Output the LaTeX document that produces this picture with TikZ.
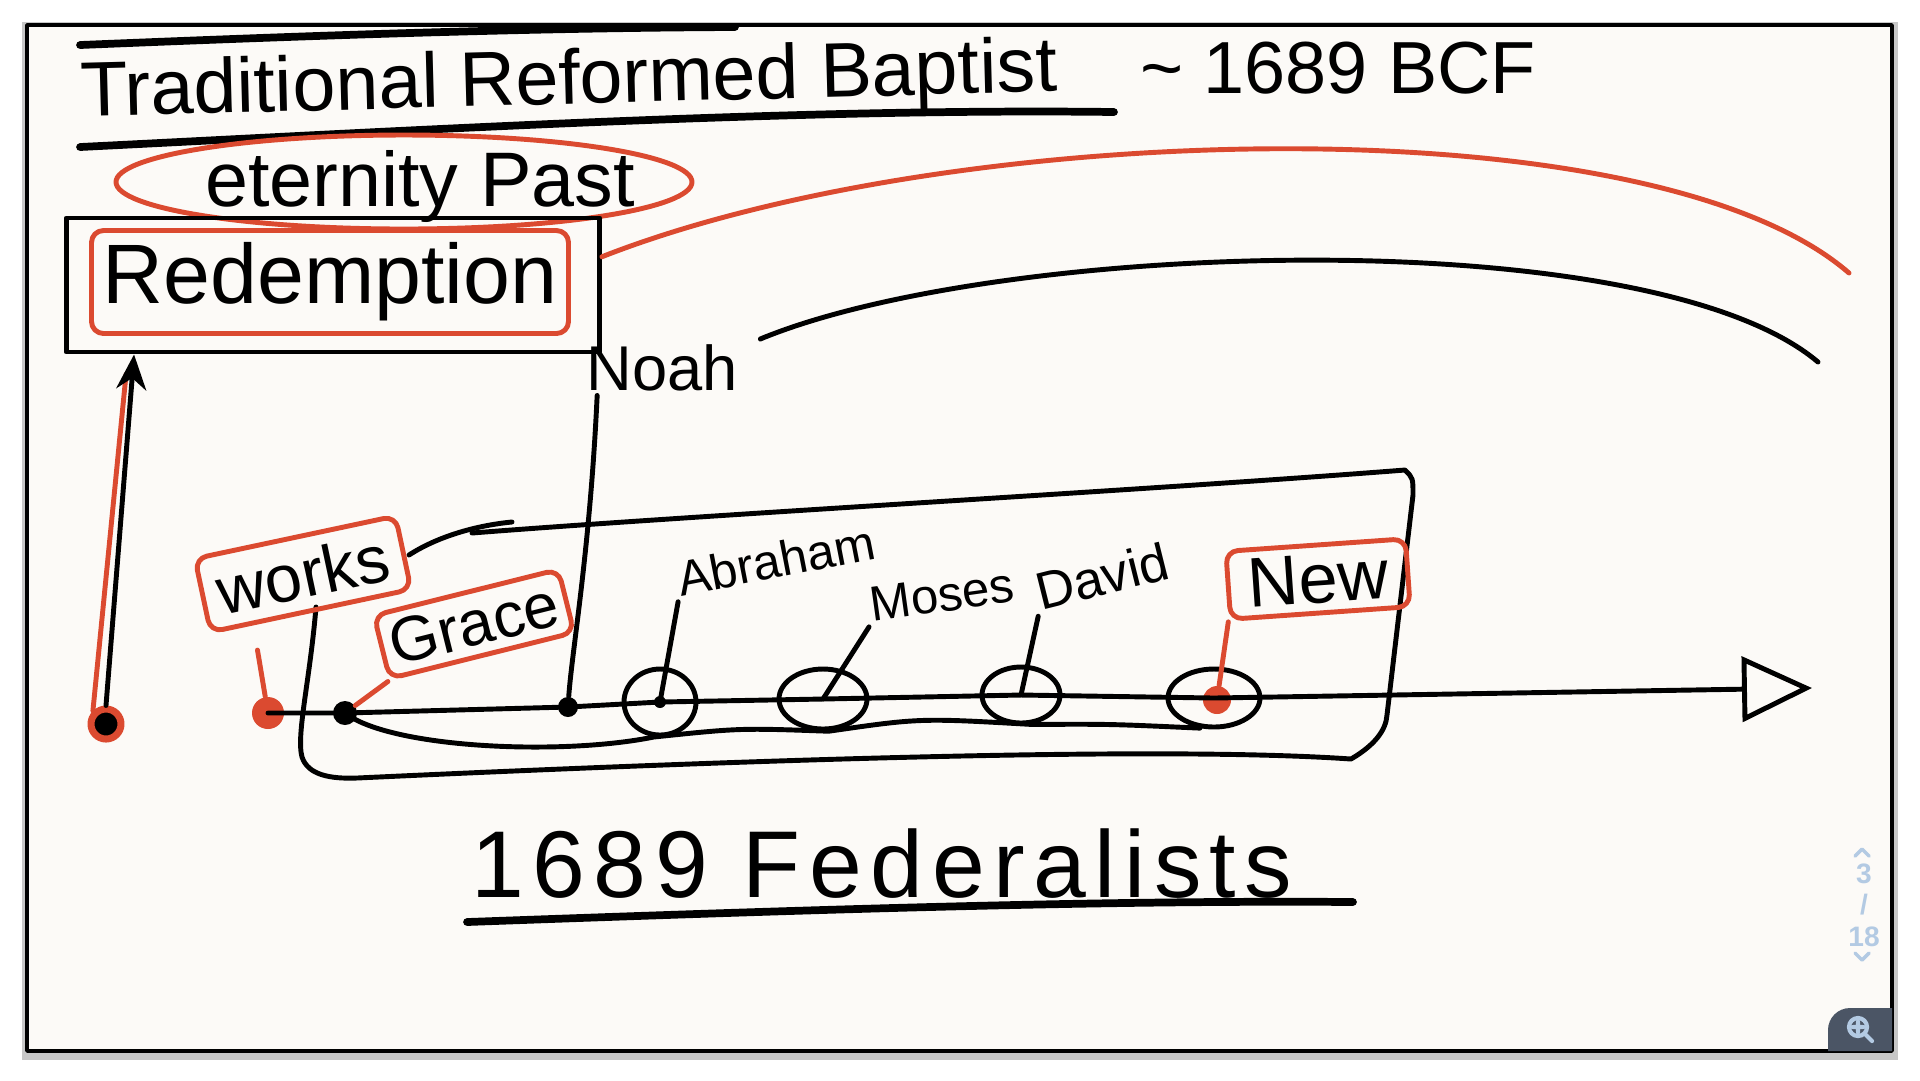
\documentclass[tikz,border=0pt]{standalone}
\usepackage{fontspec}
\setmainfont{Liberation Sans}
\usetikzlibrary{shapes.geometric,arrows.meta}
\definecolor{pen}{HTML}{DB4A30}
\definecolor{board}{HTML}{FCFAF7}
\definecolor{pager}{HTML}{B3CAE3}
\definecolor{btn}{HTML}{4B5565}

\begin{document}
\begin{tikzpicture}[x=0.1mm,y=-0.1mm,line cap=round,line join=round,
  ink/.style={draw=black,line width=1.4pt},
  red ink/.style={draw=pen,line width=1.4pt},
  hand/.style={inner sep=1pt,font=\fontsize{#1}{#1}\selectfont},
  red box/.style={draw=pen,line width=1.4pt,rounded corners=1.2mm,inner sep=1pt},
  covenant/.style={ellipse,draw,line width=1.4pt,inner sep=0pt},
  dot/.style={circle,fill=#1,inner sep=0pt,minimum size=2.4mm},dot/.default=black]

  \useasboundingbox (0,0) rectangle (1920,1080);
  \fill[white] (0,0) rectangle (1920,1080);
  \fill[black!22] (22,22) rectangle (1898,1060);
  \fill[board,draw=black,line width=1pt] (27,25) rectangle (1892,1051);

  % title
  \draw[ink,line width=2.2pt] (80,45) .. controls (300,36) and (520,28) .. (735,27);
  \node[hand=22,rotate=1.5] (title) at (569,84) {Traditional Reformed Baptist};
  \node[hand=21] (bcf) at (1338,68) {\textasciitilde\ 1689 BCF};
  \draw[ink,line width=2.2pt] (80,147) .. controls (420,130) and (800,108) .. (1114,112);

  % eternity past
  \node[ellipse,draw=pen,line width=1.4pt,minimum width=57.6mm,minimum height=9.4mm] (past) at (404,182) {};
  \node[hand=22] (pasttext) at (420,186) {eternity Past};
  \node[draw,line width=1.4pt,minimum width=53.3mm,minimum height=13.4mm] (cov) at (333,285) {};
  \node[red box,minimum width=47.7mm,minimum height=10.3mm,hand=24] (redemption) at (330,282) {Redemption};
  \coordinate (redend) at (1849,273);
  \draw[red ink] (cov.6) .. controls (950,120) and (1650,100) .. (redend);

  % noah
  \node[hand=18] (noah) at (662,368) {Noah};
  \coordinate (noahend) at (1818,362);
  \draw[ink,shorten <=2mm] (noah.15) .. controls (1000,240) and (1650,220) .. (noahend);

  % origin
  \node[circle,fill=black,draw=pen,line width=2pt,inner sep=0pt,minimum size=3mm] (origin) at (106,724) {};
  \draw[red ink] (origin.north west) -- ([xshift=6.2mm,yshift=-2mm]cov.south west);
  \draw[ink,-{Stealth[length=3.5mm,width=3mm]}] (origin.north) -- ([xshift=7mm]cov.south west);

  % timeline
  \node[dot=pen,minimum size=3.2mm] (worksdot) at (268,713) {};
  \node[dot] (gracedot) at (345,713) {};
  \node[dot,minimum size=2mm] (noahdot) at (568,707) {};
  \node[covenant,minimum width=7.2mm,minimum height=6.6mm] (acirc) at (660,702) {};
  \node[covenant,minimum width=8.8mm,minimum height=6mm] (mcirc) at (823,699) {};
  \node[covenant,minimum width=7.8mm,minimum height=5.6mm] (dcirc) at (1021,695) {};
  \node[covenant,minimum width=9.2mm,minimum height=5.8mm] (ncirc) at (1214,698) {};
  \node[dot=pen,minimum size=2.8mm] (newdot) at (1217,700) {};
  \fill (acirc.center) circle[radius=6];
  \coordinate (tip) at (1812,688);
  \draw[ink,-{Triangle[open,length=7mm,width=6.5mm]}] (worksdot.center) -- (gracedot.center)
    -- (noahdot.center) -- (acirc.center) -- (mcirc.center) -- (dcirc.center) -- (ncirc.center) -- (tip);
  \draw[ink] (gracedot.center) .. controls (390,748) and (560,756) .. (acirc.-100)
    .. controls (740,728) .. (mcirc.-80) .. controls (920,718) .. (dcirc.-70)
    .. controls (1110,724) .. (ncirc.-115);

  % covenant of grace box
  \draw[ink] (316,607) .. controls (310,680) and (296,735) .. (302,757)
    .. controls (308,775) and (330,779) .. (357,778)
    .. controls (700,762) and (1150,745) .. (1351,759)
    .. controls (1375,745) and (1386,730) .. (1387,715) -- (1413,495)
    .. controls (1413,478) .. (1405,470)
    .. controls (1150,490) and (700,515) .. (472,533);
  \draw[ink] (409,555) .. controls (440,535) and (480,525) .. (512,522);

  % labels
  \node[red box,rotate=12,minimum width=20.5mm,minimum height=7.5mm,hand=19] (works) at (303,574) {works};
  \node[red box,rotate=14,minimum width=19mm,minimum height=6.5mm,hand=18] (grace) at (474,624) {Grace};
  \node[red box,rotate=4,minimum width=18mm,minimum height=6.8mm,hand=20] (new) at (1318,579) {New};
  \node[hand=14,rotate=11] (abraham) at (776,560) {Abraham};
  \node[hand=14,rotate=8] (moses) at (942,595) {Moses};
  \node[hand=15,rotate=14] (david) at (1102,576) {David};

  \draw[red ink,shorten <=2.5mm] (works.-146) -- (worksdot);
  \draw[red ink] (grace.south west) -- (gracedot);
  \draw[red ink] (new.south west) -- (newdot);
  \draw[ink] (abraham.south west) -- (acirc.center);
  \draw[ink] (moses.south west) -- (mcirc.center);
  \draw[ink] (david.south west) -- (dcirc.center);
  \draw[ink] ([xshift=1.5mm]noah.south west) .. controls (590,550) and (572,650) .. (noahdot);

  % bottom
  \node[hand=27] (fed) at (882,864) {\addfontfeatures{LetterSpace=9}1689 Federalists};
  \draw[ink,line width=2.2pt] (467,922) .. controls (800,910) and (1100,900) .. (1353,902);

  % pager
  \draw[pager,line width=1pt] (1855,856) -- (1862,849) -- (1869,856);
  \node[text=pager,font=\bfseries\fontsize{8}{9}\selectfont,align=center,inner sep=0pt] (page) at (1864,905) {3\\/\\18};
  \draw[pager,line width=1pt] (1855,953) -- (1862,960) -- (1869,953);
  \fill[btn] (1828,1051) -- (1828,1030) arc[start angle=180,end angle=270,radius=22] -- (1892,1008) -- (1892,1051) -- cycle;
  \draw[pager,line width=1.2pt] (1858,1027) circle[radius=9] (1865,1034) -- (1872,1041)
    (1853,1027) -- (1863,1027) (1858,1022) -- (1858,1032);
\end{tikzpicture}
\end{document}
